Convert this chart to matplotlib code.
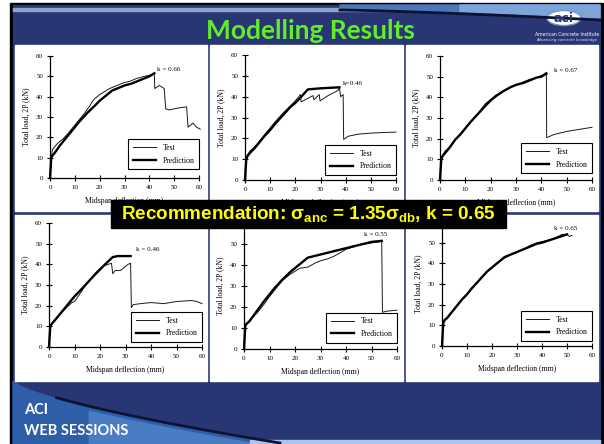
import numpy as np
import matplotlib
matplotlib.use('Agg')
import matplotlib.pyplot as plt
from matplotlib.patches import Rectangle, Polygon, Ellipse

plt.rcParams['font.family'] = 'Liberation Serif'
plt.rcParams['mathtext.fontset'] = 'custom'
plt.rcParams['mathtext.rm'] = 'Liberation Sans:bold'
plt.rcParams['mathtext.it'] = 'Liberation Sans:bold'
plt.rcParams['mathtext.bf'] = 'Liberation Sans:bold'

# ---- data (deflection mm, load kN) ----
p1_test_x = [0, 0.5, 1, 2, 3, 5, 7, 10, 12, 14, 16, 17, 18, 20, 22, 24, 26, 28, 30, 32, 35, 38, 40, 42,
             42.2, 44, 46, 46.6, 48, 52, 55, 55.6, 57.6, 59, 60.5]
p1_test_y = [0, 10, 14, 15.5, 17, 19, 21.5, 26, 29, 32, 35.5, 37.5, 39, 41, 42.5, 44, 45, 46, 47, 47.5,
             49, 50, 50.5, 51, 44, 45.5, 44, 34, 33.5, 34.5, 35, 25, 27, 25, 24]
p1_pred_x = [0, 0.5, 1, 2, 4, 6, 8, 10, 12, 15, 18, 20, 22, 25, 28, 30, 33, 35, 38, 40, 42]
p1_pred_y = [0, 10, 11, 12.5, 16, 19, 22, 25, 28, 32, 35.5, 38, 40, 43, 44.5, 45.5, 46.5, 47.5, 49, 50, 51.5]

p2_test_x = [0, 0.5, 1, 2, 3, 5, 7, 10, 12, 15, 18, 20, 22, 22.3, 27, 27.4, 29.5, 29.8, 33, 37, 37.5,
             38, 39, 39.2, 41, 45, 50, 55, 60]
p2_test_y = [0, 10, 12, 14, 15, 17.5, 20.5, 25, 28, 32, 35.5, 38, 41, 37.5, 40.5, 38.5, 41, 38, 40.5,
             43, 44.5, 40, 41, 19.5, 21, 22, 22.5, 22.8, 23]
p2_pred_x = [0, 0.5, 1, 2, 4, 6, 8, 10, 12, 15, 18, 20, 22, 25, 30, 37.5]
p2_pred_y = [0, 10, 11.5, 13, 15.5, 18.5, 21.5, 24, 27, 31, 35, 37, 39.5, 43.5, 44, 44.5]

p3_test_x = [0, 0.5, 1, 2, 3, 5, 7, 10, 12, 15, 17, 18, 20, 22, 25, 28, 30, 32, 35, 38, 40, 42,
             42.1, 45, 50, 55, 60]
p3_test_y = [0, 10, 12, 14, 15, 18, 21, 25, 28, 32, 35.5, 37, 39, 41, 43, 45, 46, 47, 48.5, 49.5, 50.5, 52,
             20.5, 22, 23.5, 24.5, 25.5]
p3_pred_x = [0, 0.5, 1, 2, 4, 6, 8, 10, 12, 15, 18, 20, 22, 25, 28, 30, 33, 35, 38, 40, 42]
p3_pred_y = [0, 10, 11.5, 13, 16, 19.5, 22, 25, 28, 32, 36, 38.5, 40.5, 43, 45, 46, 47, 48, 49.5, 50, 51.5]

p4_test_x = [0, 0.5, 1, 3, 6, 9, 10, 12, 15, 18, 20, 22, 24.5, 25, 26, 28, 31, 32, 32.3, 33, 36, 40,
             45, 50, 56, 58, 60]
p4_test_y = [0, 10, 11.5, 14, 18, 21.5, 22, 25.5, 31, 35.5, 38, 39.5, 40.5, 35.5, 37, 37, 40, 40.5,
             19, 20.5, 21, 21.5, 21, 22, 22.5, 22, 21]
p4_pred_x = [0, 0.5, 1, 2, 4, 6, 8, 10, 12, 15, 18, 20, 22, 25, 27, 32]
p4_pred_y = [0, 10, 11, 12.5, 15.5, 18.5, 21.5, 24.5, 27, 31, 35, 37.5, 40, 43.5, 44, 44]

p5_test_x = [0, 0.5, 1, 3, 5, 8, 10, 12, 15, 18, 20, 22, 25, 28, 30, 33, 35, 38, 40, 45, 50, 53, 54,
             54.3, 56, 60]
p5_test_y = [0, 11, 12, 14.5, 17, 21.5, 25, 28, 32.5, 35.5, 37, 38.5, 39, 41, 42, 43, 44, 46, 47.5,
             49.5, 50.5, 51, 51.5, 17.5, 18, 18.5]
p5_pred_x = [0, 0.5, 1, 2, 5, 8, 10, 12, 15, 18, 20, 22, 25, 30, 35, 40, 45, 50, 54]
p5_pred_y = [0, 11, 12, 13, 18, 23, 26, 29, 33, 36.5, 38.5, 40.5, 43.5, 45, 46.5, 48, 49.5, 51, 51.5]

p6_test_x = [0, 0.5, 1, 2, 5, 8, 10, 12, 15, 18, 20, 22, 25, 28, 30, 33, 35, 38, 40, 45, 48, 50, 51, 52]
p6_test_y = [0, 11, 12.5, 13.5, 18, 22.5, 25, 28, 32, 36, 38, 40, 42.5, 44.5, 45.5, 47, 48.5, 50, 50.5,
             52, 54, 54, 53, 53.5]
p6_pred_x = [0, 0.5, 1, 2, 5, 8, 10, 12, 15, 18, 20, 22, 25, 28, 30, 33, 35, 38, 40, 45, 50]
p6_pred_y = [0, 11, 12.5, 13.5, 18, 22.5, 25, 28, 32, 36, 38, 40, 43, 44.5, 45.5, 47, 48, 49.5, 50, 52, 54]

k_labels = ['k = 0.66', 'k=0.46', 'k = 0.67', 'k = 0.46', 'k = 0.55', 'k = 0.65']
k_pos = [(43, 53.5), (39, 46.5), (45, 53), (34, 47), (47, 54.5), (45, 57)]
ticks = [0, 10, 20, 30, 40, 50, 60]

W, H = 604, 444
fig = plt.figure(figsize=(W / 100, H / 100), dpi=100)
fig.patch.set_facecolor('white')

# slide background, drawn in pixel coordinates
bg = fig.add_axes([0, 0, 1, 1])
bg.set_xlim(0, W)
bg.set_ylim(H, 0)
bg.axis('off')
navy = '#283673'
bg.add_patch(Rectangle((10, 3), 593, 441, color='black'))
bg.add_patch(Rectangle((13, 5), 587, 439, color=navy))
# header swoosh
bg.add_patch(Rectangle((13, 8), 380, 3, color='#8fa3cc'))
sx = np.linspace(340, 600, 40)
sy = 9 + 10 * ((sx - 340) / 260) ** 1.3
bg.add_patch(Polygon(list(zip(sx, sy)) + [(600, 5), (340, 5)], color='#4d78bd'))
bg.add_patch(Polygon(list(zip(sx[18:], sy[18:] - 1)) + [(600, 5), (sx[18], 5)], color='#7ea5da'))
bg.plot(sx, sy + 1, color='#0d1433', lw=2)
bg.add_patch(Ellipse((564, 18), 34, 15, facecolor='white', edgecolor='#6f95d0', lw=1))
bg.text(564, 18.5, 'aci', color=navy, fontsize=9, fontweight='bold', family='DejaVu Sans',
        ha='center', va='center')
bg.text(567, 34, 'American Concrete Institute', color='white', fontsize=3.3, family='DejaVu Sans',
        ha='center', va='center')
bg.text(567, 40, 'Advancing concrete knowledge', color='#dde6f5', fontsize=2.8, family='DejaVu Sans',
        style='italic', ha='center', va='center')
bg.text(310, 31, 'Modelling Results', color='#63ec2c', fontsize=19, fontweight='bold',
        family='Lato', ha='center', va='center')

# footer swoosh
fx = np.linspace(13, 280, 50)
fy = 381 + 63 * ((fx - 13) / 267) ** 0.7
bg.add_patch(Polygon(list(zip(fx, fy)) + [(13, 444)], color='#2f5ea8'))
bg.add_patch(Polygon(list(zip(fx[14:], fy[14:] + 4)) + [(280, 444), (fx[14], 444)], color='#4a7cc4'))
bg.plot(fx[8:], fy[8:] - 1, color='#0d1433', lw=2)
bg.add_patch(Rectangle((250, 440), 350, 4, color='#a9c6ec'))
bg.text(24, 410, 'ACI', color='white', fontsize=10.5, fontweight='bold', family='Lato', va='center')
bg.text(24, 431, 'WEB SESSIONS', color='white', fontsize=10.5, fontweight='bold', family='Lato', va='center')

# white panels
for x0, x1 in [(15, 207), (210, 403), (406, 598)]:
    for y0, y1 in [(45, 211), (215, 381)]:
        bg.add_patch(Rectangle((x0, y0), x1 - x0, y1 - y0, color='white'))

# axes boxes in pixels: x of 0, x of 60, y of 0, y of 60
boxes = [(50, 199, 178, 56), (245, 396, 180, 55), (440, 592, 180, 56),
         (49, 202, 347, 223), (244, 397, 349, 223), (442, 592, 346, 222)]
legend_anchor = [(1.0, 0.07), (1.0, 0.04), (1.0, 0.055), (1.0, 0.04), (1.0, 0.05), (1.0, 0.04)]
series = [(p1_test_x, p1_test_y, p1_pred_x, p1_pred_y),
          (p2_test_x, p2_test_y, p2_pred_x, p2_pred_y),
          (p3_test_x, p3_test_y, p3_pred_x, p3_pred_y),
          (p4_test_x, p4_test_y, p4_pred_x, p4_pred_y),
          (p5_test_x, p5_test_y, p5_pred_x, p5_pred_y),
          (p6_test_x, p6_test_y, p6_pred_x, p6_pred_y)]

for i, (bx0, bx1, by0, by1) in enumerate(boxes):
    ax = fig.add_axes([bx0 / W, 1 - by0 / H, (bx1 - bx0) / W, (by0 - by1) / H])
    ax.patch.set_alpha(0)
    tx, ty, px, py = series[i]
    ax.plot(tx, ty, color='#1a1a1a', lw=0.7, label='Test', clip_on=False)
    ax.plot(px, py, color='black', lw=1.7, label='Prediction', clip_on=False)
    ax.set_xlim(0, 60)
    ax.set_ylim(0, 60)
    ax.set_xticks(ticks)
    ax.set_yticks(ticks)
    for s in ['top', 'right']:
        ax.spines[s].set_visible(False)
    for s in ['left', 'bottom']:
        ax.spines[s].set_linewidth(0.9)
    ax.tick_params(direction='inout', length=4, width=0.8, labelsize=5, pad=3)
    ax.set_xlabel('Midspan deflection (mm)', fontsize=5.5, labelpad=5)
    ax.set_ylabel('Total load, 2P (kN)', fontsize=5.5, labelpad=4)
    ax.text(k_pos[i][0], k_pos[i][1], k_labels[i], fontsize=5, va='center')
    leg = ax.legend(loc='lower right', bbox_to_anchor=legend_anchor[i], fontsize=5.6,
                    fancybox=False, framealpha=1, edgecolor='black', handlelength=3,
                    borderpad=0.6, labelspacing=0.6, borderaxespad=0)
    leg.get_frame().set_linewidth(0.8)

# recommendation banner on top
top = fig.add_axes([0, 0, 1, 1])
top.set_xlim(0, W)
top.set_ylim(H, 0)
top.axis('off')
top.add_patch(Rectangle((111, 200), 395, 28, color='black'))
top.text(308, 214, r'Recommendation: $\sigma_{anc}$ = 1.35$\sigma_{db}$, k = 0.65', color='#ffff00',
         fontsize=13.6, fontweight='bold', family='Liberation Sans', ha='center', va='center')

fig.savefig('out.png', dpi=100)
